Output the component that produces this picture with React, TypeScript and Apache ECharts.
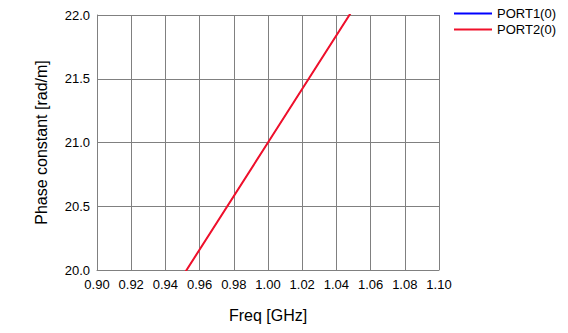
import React, { useEffect, useRef } from "react";
import * as echarts from "echarts";

const freqGHz = [0.9, 0.95, 1.0, 1.05, 1.1];
const port1Beta = [18.9, 19.95, 21.0, 22.05, 23.1];
const port2Beta = [18.9, 19.95, 21.0, 22.05, 23.1];
const seriesNames = ["PORT1(0)", "PORT2(0)"];

export default function App() {
  const ref = useRef<HTMLDivElement>(null);
  useEffect(() => {
    const chart = echarts.init(ref.current!, undefined, { renderer: "svg" });
    const font = "'Liberation Sans', Arial, sans-serif";
    chart.setOption({
      animation: false,
      backgroundColor: "#fff",
      textStyle: { fontFamily: font },
      grid: { left: 97, right: 129, top: 15, bottom: 63, containLabel: false },
      legend: {
        orient: "vertical",
        left: 449,
        top: 2,
        itemWidth: 38,
        itemHeight: 2,
        itemGap: 3,
        icon: "rect",
        textStyle: { fontSize: 13, color: "#000", fontFamily: font },
        data: seriesNames,
      },
      xAxis: {
        type: "value",
        min: 0.9,
        max: 1.1,
        interval: 0.02,
        name: "Freq [GHz]",
        nameLocation: "middle",
        nameGap: 37,
        nameTextStyle: { fontSize: 16, color: "#000", fontFamily: font },
        axisLine: { show: true, lineStyle: { color: "#808080", width: 1 } },
        axisTick: { show: false },
        splitLine: { show: true, lineStyle: { color: "#808080", width: 1 } },
        axisLabel: {
          color: "#000",
          fontSize: 13,
          margin: 8,
          fontFamily: font,
          formatter: (v: number) => v.toFixed(2),
        },
      },
      yAxis: {
        type: "value",
        min: 20,
        max: 22,
        interval: 0.5,
        name: "Phase constant [rad/m]",
        nameLocation: "middle",
        nameGap: 48,
        nameTextStyle: { fontSize: 16, color: "#000", fontFamily: font },
        axisLine: { show: true, lineStyle: { color: "#808080", width: 1 } },
        axisTick: { show: false },
        splitLine: { show: true, lineStyle: { color: "#808080", width: 1 } },
        axisLabel: {
          color: "#000",
          fontSize: 13,
          margin: 7,
          fontFamily: font,
          formatter: (v: number) => v.toFixed(1),
        },
      },
      series: [
        {
          name: seriesNames[0],
          type: "line",
          data: freqGHz.map((f, i) => [f, port1Beta[i]]),
          symbol: "none",
          clip: true,
          lineStyle: { color: "#0000ff", width: 1 },
          itemStyle: { color: "#0000ff" },
        },
        {
          name: seriesNames[1],
          type: "line",
          data: freqGHz.map((f, i) => [f, port2Beta[i]]),
          symbol: "none",
          clip: true,
          lineStyle: { color: "#f0102a", width: 2 },
          itemStyle: { color: "#f0102a" },
        },
      ],
    });
    return () => chart.dispose();
  }, []);
  return (
    <div
      ref={ref}
      style={{ position: "fixed", left: 0, top: 0, width: 568, height: 333 }}
    />
  );
}
